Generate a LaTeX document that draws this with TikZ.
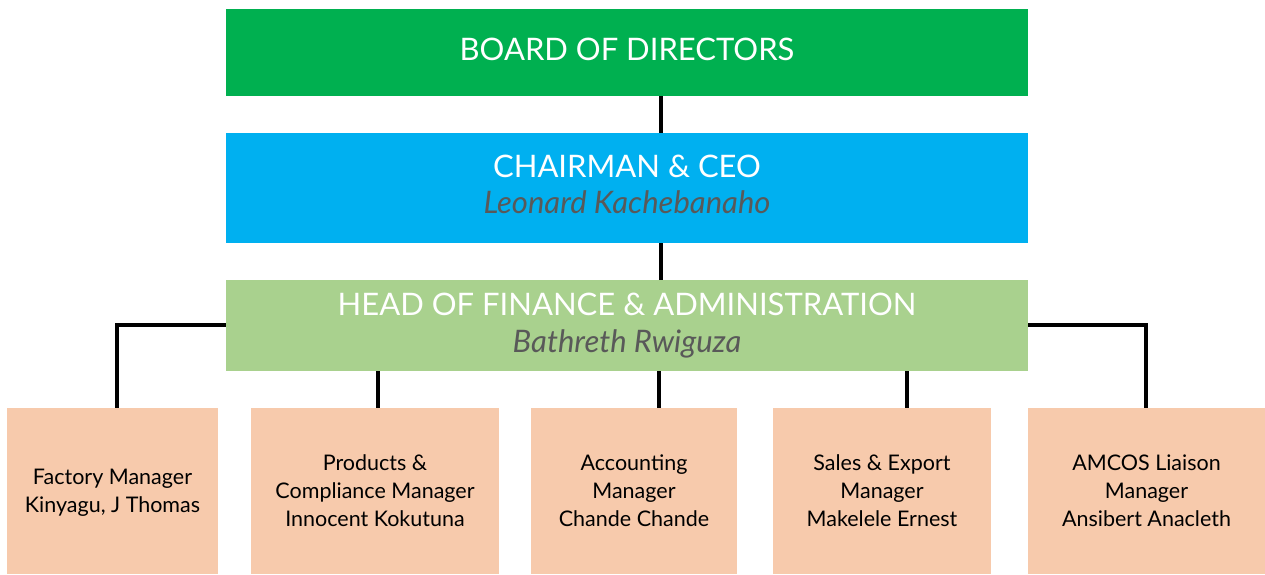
\documentclass[tikz,border=0pt]{standalone}
\usepackage{fontspec}
\setmainfont{Lato}
\definecolor{boardgreen}{HTML}{00B050}
\definecolor{ceoblue}{HTML}{00B0F0}
\definecolor{headgreen}{HTML}{A9D18E}
\definecolor{peach}{HTML}{F7CAAC}
\definecolor{namegray}{HTML}{595959}
\begin{document}
\begin{tikzpicture}[x=1pt,y=-1pt,
  topbox/.style={rectangle,inner sep=0pt,minimum width=802pt,text=white,align=center,
    font=\fontsize{31}{37}\selectfont},
  mgrbox/.style={rectangle,inner sep=0pt,fill=peach,minimum height=166pt,align=center,
    font=\fontsize{21.5}{28}\selectfont,text=black,text depth=0pt},
  link/.style={line width=4pt,black}]
\useasboundingbox (0,0) rectangle (1265,574);
\node[topbox,fill=boardgreen,minimum height=87pt,text depth=7pt] (board) at (627,52.5) {BOARD OF DIRECTORS};
\node[topbox,fill=ceoblue,minimum height=110pt,text depth=8pt] (chair) at (627,188) {CHAIRMAN \& CEO\\[-1pt]{\color{namegray}\itshape Leonard Kachebanaho}};
\node[topbox,fill=headgreen,minimum height=91pt] (head) at (627,325.5) {HEAD OF FINANCE \& ADMINISTRATION\\[0pt]{\color{namegray}\itshape Bathreth Rwiguza}};
\node[mgrbox,minimum width=211pt] (b1) at (112.5,491) {Factory Manager\\Kinyagu, J Thomas};
\node[mgrbox,minimum width=248pt] (b2) at (375,491) {Products \&\\Compliance Manager\\Innocent Kokutuna};
\node[mgrbox,minimum width=206pt] (b3) at (634,491) {Accounting\\Manager\\Chande Chande};
\node[mgrbox,minimum width=218pt] (b4) at (882,491) {Sales \& Export\\Manager\\Makelele Ernest};
\node[mgrbox,minimum width=237pt] (b5) at (1146.5,491) {AMCOS Liaison\\Manager\\Ansibert Anacleth};
\coordinate (c1) at (661,0);
\coordinate (c2) at (378,0);
\coordinate (c3) at (659,0);
\coordinate (c4) at (907,0);
\coordinate (cl) at (117,325);
\coordinate (cr) at (1146,325);
\draw[link] (board.south -| c1) -- (chair.north -| c1);
\draw[link] (chair.south -| c1) -- (head.north -| c1);
\draw[link] (head.south -| c2) -- (b2.north -| c2);
\draw[link] (head.south -| c3) -- (b3.north -| c3);
\draw[link] (head.south -| c4) -- (b4.north -| c4);
\draw[link] (head.west |- cl) -- (cl) -- (b1.north -| cl);
\draw[link] (head.east |- cr) -- (cr) -- (b5.north -| cr);
\end{tikzpicture}
\end{document}
